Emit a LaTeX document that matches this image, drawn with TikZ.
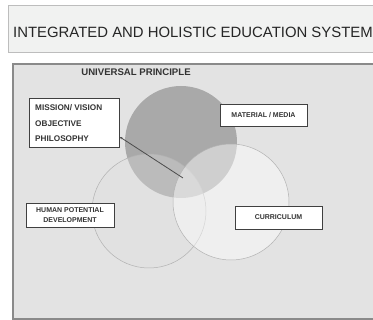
\documentclass[tikz,border=0pt]{standalone}
\usepackage{fontspec}
\setmainfont{Liberation Sans}
\usetikzlibrary{arrows.meta}
\definecolor{titlefill}{HTML}{F1F2F1}
\definecolor{titleline}{HTML}{BDBDBD}
\definecolor{panelfill}{HTML}{E3E3E3}
\definecolor{panelline}{HTML}{8A8A8A}
\definecolor{darkcirc}{HTML}{A9A9A9}
\definecolor{labeltext}{HTML}{333333}
\tikzset{
  labelbox/.style={draw=black!75, line width=0.9pt, fill=white, inner sep=0pt, font=\bfseries\fontsize{7}{8}\selectfont, text=labeltext},
  lightcirc/.style={draw=black!30, line width=0.5pt}
}
\begin{document}
\begin{tikzpicture}[x=1pt,y=-1pt]
\useasboundingbox (0,0) rectangle (373,320);
\clip (0,0) rectangle (373,320);
\fill[white] (0,0) rectangle (373,320);
% title
\node[draw=titleline, fill=titlefill, line width=0.8pt, minimum width=380pt, minimum height=47pt, anchor=north west, inner sep=0pt] (titlebox) at (8,5) {};
\node[anchor=west, font=\fontsize{14.9}{16}\selectfont, text=black!85, inner sep=0pt] (title) at (13,32) {INTEGRATED AND HOLISTIC EDUCATION SYSTEM};
% panel
\node[draw=panelline, fill=panelfill, line width=2pt, minimum width=380pt, minimum height=255pt, anchor=north west, inner sep=0pt] (panel) at (12,63) {};
\node[font=\bfseries\fontsize{9.6}{11}\selectfont, text=labeltext, inner sep=0pt] (up) at (136,72) {UNIVERSAL PRINCIPLE};
% circles
\fill[darkcirc] (181,142) circle (56);
\node[circle, minimum size=114pt, inner sep=0pt, lightcirc, fill=gray!25, fill opacity=0.35] (hp) at (149,211) {};
\node[circle, minimum size=116pt, inner sep=0pt, lightcirc, fill=white, fill opacity=0.45] (cu) at (231,202) {};
\node[circle, minimum size=112pt, inner sep=0pt] (mm) at (181,142) {};
% label boxes
\node[labelbox, minimum width=90pt, minimum height=49pt, anchor=north west] (mission) at (29,98) {};
\node[anchor=west, inner sep=0pt, font=\bfseries\fontsize{8.2}{9}\selectfont, text=labeltext] (m1) at (35,108) {MISSION/ VISION};
\node[anchor=west, inner sep=0pt, font=\bfseries\fontsize{8.2}{9}\selectfont, text=labeltext] (m2) at (35,123.5) {OBJECTIVE};
\node[anchor=west, inner sep=0pt, font=\bfseries\fontsize{8.2}{9}\selectfont, text=labeltext] (m3) at (35,139) {PHILOSOPHY};
\node[labelbox, minimum width=87pt, minimum height=22pt] (material) at (263.5,115) {MATERIAL / MEDIA};
\node[labelbox, minimum width=88pt, minimum height=24pt, align=center, font=\bfseries\fontsize{7}{9.5}\selectfont] (human) at (70,215) {HUMAN POTENTIAL\\DEVELOPMENT};
\node[labelbox, minimum width=87pt, minimum height=23pt] (curr) at (278.5,217.5) {CURRICULUM};
% connector
\coordinate (lineend) at (183,178);
\draw[black!70, line width=0.8pt, {Stealth[length=2.5pt,width=2.5pt]}-] (mission.east |- 0,137) -- (lineend);
\end{tikzpicture}
\end{document}
